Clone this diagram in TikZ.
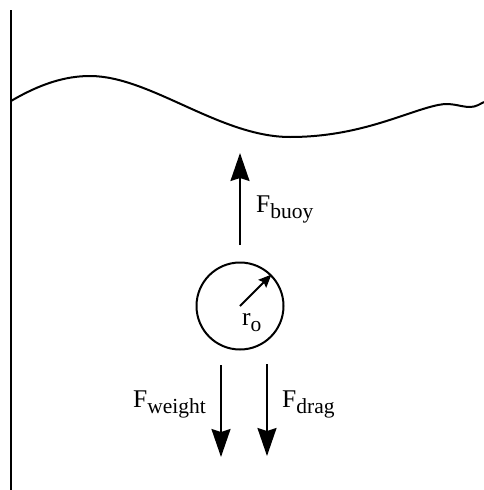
\documentclass[tikz,border=0pt]{standalone}
\usepackage{fontspec}
\setmainfont{Liberation Serif}
\usepackage{tikz}
\usetikzlibrary{arrows.meta,positioning}
\newcommand{\lowsub}[1]{\raisebox{-6pt}{\fontsize{21.5}{21.5}\selectfont #1}}

\begin{document}
\begin{tikzpicture}[x=1pt,y=-1pt,
    force/.style={line width=2pt,-{Stealth[length=28pt,width=19pt,inset=3pt]}},
    lbl/.style={inner sep=0pt,anchor=base west,font=\fontsize{25.5}{25.5}\selectfont}]
  \useasboundingbox (0,0) rectangle (484,490);
  % wall and water surface
  \draw[line width=2.2pt] (11,10)--(11,490);
  \draw[line width=2pt] (11,101) .. controls (40,84) and (65,76) .. (90,76)
    .. controls (150,76) and (220,137) .. (290,137)
    .. controls (360,137) and (405,112) .. (438,105)
    .. controls (452,102) and (460,107) .. (470,107)
    .. controls (476,107) and (480,104) .. (484,102);
  % particle
  \node[circle,draw,line width=2pt,minimum size=87pt,inner sep=0pt] (ball) at (240,306) {};
  \draw[line width=2pt,-{Stealth[length=13pt,width=11pt,inset=2pt]}] (ball.center)--(ball.45);
  \node[lbl] (rlbl) at (242,325) {r\lowsub{o}};
  % forces
  \coordinate (buoytail) at (240,245); \coordinate (buoytip) at (240,153);
  \coordinate (wtail) at (221,365); \coordinate (wtip) at (221,457);
  \coordinate (dtail) at (267,364); \coordinate (dtip) at (267,456);
  \draw[force] (buoytail)--(buoytip);
  \draw[force] (wtail)--(wtip);
  \draw[force] (dtail)--(dtip);
  \node[lbl] (fbuoy) at (256,212) {F\lowsub{buoy}};
  \node[lbl] (fweight) at (133,407) {F\lowsub{weight}};
  \node[lbl] (fdrag) at (282,407) {F\lowsub{drag}};
\end{tikzpicture}
\end{document}
